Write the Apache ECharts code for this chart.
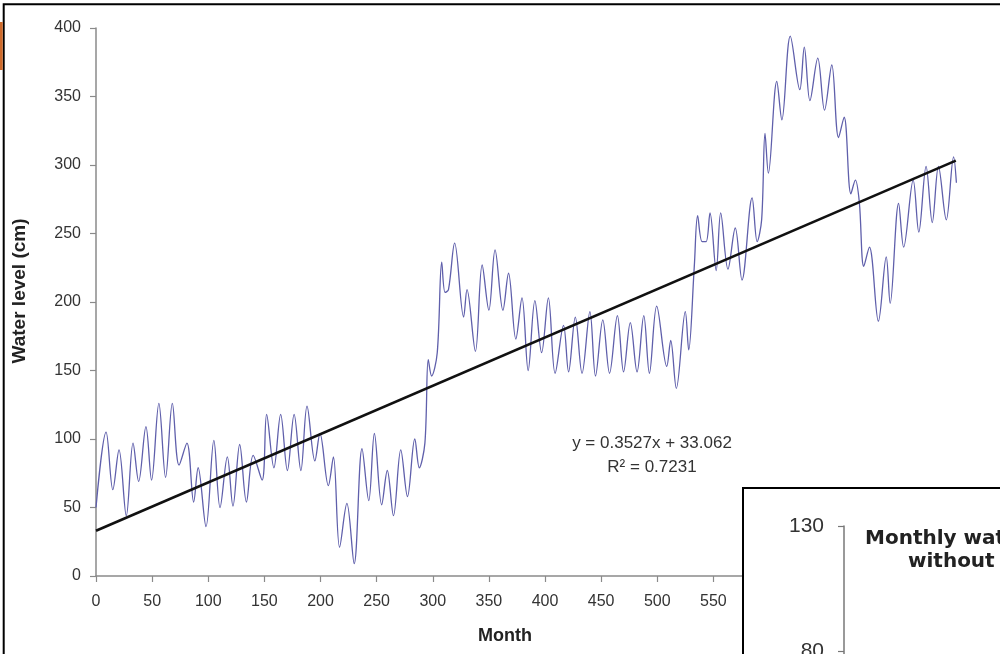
<!DOCTYPE html>
<html><head><meta charset="utf-8">
<script src="https://cdn.jsdelivr.net/npm/echarts@6/dist/echarts.min.js"></script>
<style>html,body{margin:0;padding:0;background:#fff}#c{width:1000px;height:654px}</style>
</head><body><div id="c"></div><script>
// Month index of each turning point (peaks and troughs)
const months = [0, 9, 15, 20.5, 27, 33, 38, 44.5, 49.5, 56, 62, 68, 74, 81, 87, 91, 98, 105, 110.5, 117, 122, 128, 134, 140, 148, 152, 158.5, 164.5, 170.5, 176.5, 182.5, 188, 195, 199.5, 207, 211.5, 217, 223.5, 230, 237, 243, 248, 254.5, 259.5, 265, 271.5, 277.5, 284, 288, 293, 296, 299, 304, 308, 311, 314, 319.5, 327.5, 330.5, 338, 344, 350, 355.5, 362.5, 367.5, 374, 379.5, 385, 391, 397, 403, 409, 416.5, 421, 427, 433, 440, 445, 451.5, 457.5, 464.5, 470, 476, 482, 488, 493, 499.5, 508.5, 512, 517, 525, 528, 533, 536, 540, 543.5, 547, 552.5, 556.5, 563, 569.5, 575.5, 584.5, 589, 593, 596, 599, 606.5, 611, 618.5, 627, 631, 636, 643, 649, 655.5, 661.5, 666.5, 672.5, 676.5, 680, 684, 689, 697, 704, 707.5, 715, 719.5, 728, 733, 739.5, 745, 750.5, 757.5, 764, 766.5];
// Water level (cm) at those months
const levels = [50, 105, 63, 92, 44, 97, 69, 109, 70, 126, 72, 126, 81, 97, 54, 79, 36, 99, 50, 87, 51, 96, 54, 88, 70, 118, 79, 118, 77, 118, 77, 124, 84, 104, 66, 87, 21, 53, 9, 93, 55, 104, 52, 77, 44, 92, 58, 100, 79, 97, 158, 146, 163, 229, 207, 209, 243, 189, 209, 164, 227, 194, 238, 194, 221, 173, 203, 150, 201, 163, 203, 148, 183, 149, 189, 148, 193, 146, 187, 148, 190, 149, 185, 149, 190, 148, 197, 153, 172, 137, 193, 165, 226, 263, 244, 244, 265, 223, 265, 224, 254, 216, 276, 244, 260, 323, 294, 361, 333, 394, 355, 386, 347, 378, 340, 373, 320, 335, 279, 289, 273, 226, 240, 186, 233, 199, 272, 240, 289, 251, 299, 258, 299, 260, 306, 287];
// Linear trend line end points (y = 0.3527x + 33.062)
const trendMonths = [0, 766];
const trendLevels = [33.06, 303.2];
const equationLines = ['y = 0.3527x + 33.062', 'R\u00B2 = 0.7231'];
const insetTitle = ['Monthly water level', 'without trend'];

const chart = echarts.init(document.getElementById('c'), null, {renderer: 'canvas'});
const axisGray = '#8a8a8a';
const FONT = 'Liberation Sans, Arial, sans-serif';

chart.setOption({
  animation: false,
  backgroundColor: '#fff',
  grid: [
    {left: 96, top: 28, right: 6, bottom: 78, outerBoundsMode: 'none', containLabel: false},
    {left: 844, top: 526, width: 300, height: 250, outerBoundsMode: 'none', containLabel: false}
  ],
  xAxis: [
    {type: 'value', gridIndex: 0, min: 0, max: 800, interval: 50,
     axisLine: {lineStyle: {color: axisGray, width: 1.5}},
     axisTick: {length: 6, lineStyle: {color: axisGray, width: 1.2}},
     axisLabel: {color: '#333', fontSize: 16, margin: 18, fontFamily: FONT},
     splitLine: {show: false}},
    {type: 'value', gridIndex: 1, min: 0, max: 1, show: false}
  ],
  yAxis: [
    {type: 'value', gridIndex: 0, min: 0, max: 400, interval: 50,
     axisLine: {show: true, lineStyle: {color: axisGray, width: 1.5}},
     axisTick: {show: true, length: 6, lineStyle: {color: axisGray, width: 1.2}},
     axisLabel: {color: '#333', fontSize: 16, margin: 15, fontFamily: FONT},
     splitLine: {show: false}},
    {type: 'value', gridIndex: 1, min: 30, max: 130, interval: 50, z: 110,
     axisLine: {show: true, lineStyle: {color: '#777', width: 1.5}},
     axisTick: {show: true, length: 6, lineStyle: {color: '#777', width: 1.2}},
     axisLabel: {color: '#333', fontSize: 21, margin: 20, fontFamily: FONT},
     splitLine: {show: false}}
  ],
  series: [
    {type: 'line', xAxisIndex: 0, yAxisIndex: 0, showSymbol: false, smooth: 0.35,
     data: months.map((m, i) => [m, levels[i]]),
     lineStyle: {color: '#5f5fab', width: 1.3}, z: 2},
    {type: 'line', xAxisIndex: 0, yAxisIndex: 0, showSymbol: false,
     data: trendMonths.map((m, i) => [m, trendLevels[i]]),
     lineStyle: {color: '#111', width: 2.6}, z: 3},
    {type: 'line', xAxisIndex: 1, yAxisIndex: 1, showSymbol: false, data: []}
  ],
  graphic: {elements: [
    {type: 'rect', z: 100, shape: {x: 743, y: 488, width: 400, height: 300},
     style: {fill: '#fff', stroke: '#000', lineWidth: 2}},
    {type: 'rect', z: 100, shape: {x: 3.7, y: 4.3, width: 1200, height: 1200},
     style: {fill: 'none', stroke: '#000', lineWidth: 2}},
    {type: 'rect', z: 100, shape: {x: 0, y: 22, width: 2.7, height: 48},
     style: {fill: '#cf6a2b'}},
    {type: 'text', z: 120, x: 652, y: 443,
     style: {text: equationLines[0], font: '17px ' + FONT, fill: '#333', textAlign: 'center', align: 'center', textVerticalAlign: 'middle', verticalAlign: 'middle'}},
    {type: 'text', z: 120, x: 652, y: 467,
     style: {text: equationLines[1], font: '17px ' + FONT, fill: '#333', textAlign: 'center', align: 'center', textVerticalAlign: 'middle', verticalAlign: 'middle'}},
    {type: 'text', z: 120, x: 505, y: 636,
     style: {text: 'Month', font: 'bold 18px ' + FONT, fill: '#222', textAlign: 'center', align: 'center', textVerticalAlign: 'middle', verticalAlign: 'middle'}},
    {type: 'text', z: 120, x: 20, y: 291, rotation: Math.PI / 2,
     style: {text: 'Water level (cm)', font: 'bold 19px ' + FONT, fill: '#222', textAlign: 'center', align: 'center', textVerticalAlign: 'middle', verticalAlign: 'middle'}},
    {type: 'text', z: 120, x: 865, y: 539,
     style: {text: insetTitle[0], font: 'bold 20px DejaVu Sans, sans-serif', fill: '#222', textAlign: 'left', align: 'left', textVerticalAlign: 'middle', verticalAlign: 'middle'}},
    {type: 'text', z: 120, x: 908, y: 562,
     style: {text: insetTitle[1], font: 'bold 20px DejaVu Sans, sans-serif', fill: '#222', textAlign: 'left', align: 'left', textVerticalAlign: 'middle', verticalAlign: 'middle'}}
  ]}
});
</script></body></html>
